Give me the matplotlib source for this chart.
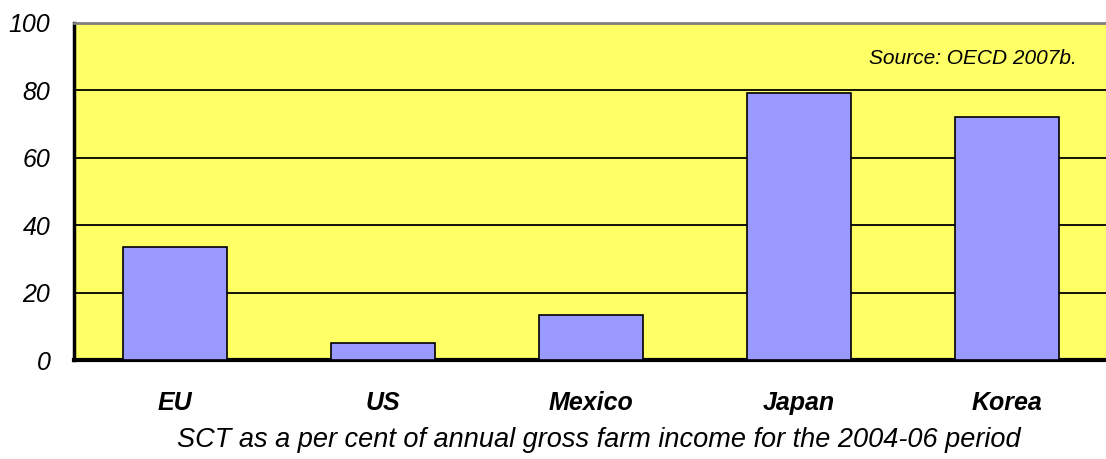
import matplotlib
matplotlib.use('Agg')
import matplotlib.pyplot as plt

plt.rcParams['font.family'] = ['Liberation Sans', 'DejaVu Sans']

countries = ['EU', 'US', 'Mexico', 'Japan', 'Korea']
sct_share = [33.5, 5.0, 13.4, 79.2, 72.1]
y_ticks = [0, 20, 40, 60, 80, 100]

fig = plt.figure(figsize=(11.06, 4.59), dpi=100)
# plot area runs a little past the right edge of the picture
ax = fig.add_axes([74 / 1106, 1 - 360 / 459, 1037 / 1106, 337 / 459])
ax.set_facecolor('#FFFF66')

x = range(len(countries))
ax.bar(x, sct_share, width=0.5, color='#9999FF', edgecolor='black', linewidth=1.2, zorder=3)

ax.set_xlim(-0.5 + 3 / 208, len(countries) - 0.5)
ax.set_ylim(0, 100)
ax.set_yticks(y_ticks)
ax.set_yticklabels([str(t) for t in y_ticks], fontsize=18, fontstyle='italic')
ax.set_xticks(list(x))
ax.set_xticklabels(countries, fontsize=18, fontstyle='italic', fontweight='bold')
ax.tick_params(axis='both', length=0)
ax.tick_params(axis='x', pad=22)
ax.tick_params(axis='y', pad=17)

ax.grid(axis='y', color='black', linewidth=1.3, zorder=1)
ax.set_axisbelow(True)

ax.spines['right'].set_visible(False)
ax.spines['top'].set_color('#808080')
ax.spines['top'].set_linewidth(2)
ax.spines['left'].set_linewidth(2.5)
ax.spines['bottom'].set_linewidth(3)

ax.set_xlabel('SCT as a per cent of annual gross farm income for the 2004-06 period',
              fontsize=19.5, fontstyle='italic', labelpad=9)
ax.xaxis.label.set_x((599 - 74) / 1037)

ax.text((1077 - 74) / 1037, 0.895, 'Source: OECD 2007b.', transform=ax.transAxes,
        ha='right', va='center', fontsize=15, fontstyle='italic')

fig.savefig('out.png', dpi=100, facecolor='white')
